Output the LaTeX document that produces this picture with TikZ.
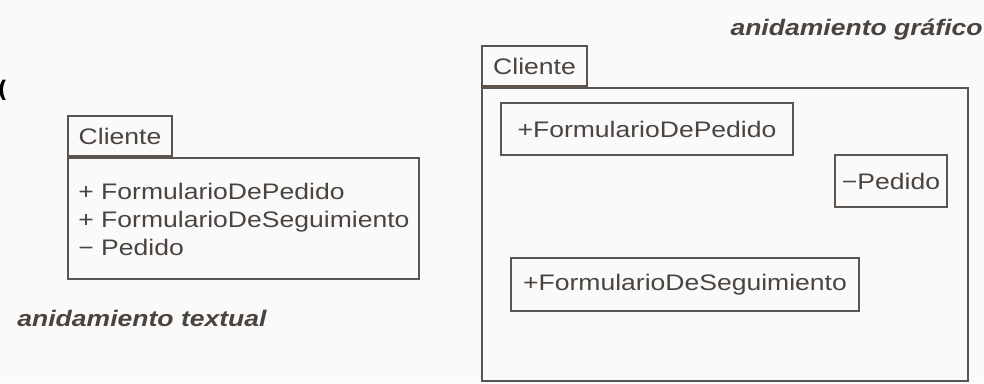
\documentclass[tikz,border=0pt]{standalone}
\usepackage{fontspec}
\newfontfamily\umlfont[FakeStretch=1.18]{Liberation Sans}
\newfontfamily\parenfont{DejaVu Sans}
\usetikzlibrary{positioning}
\definecolor{inkline}{HTML}{5C544E}
\definecolor{inktext}{HTML}{4A433E}
\definecolor{paper}{HTML}{FAFAFA}
\tikzstyle{pkgbody}=[draw=inkline, line width=1.1pt, inner sep=0pt]
\tikzstyle{pkgtab}=[draw=inkline, line width=1.1pt, inner sep=0pt, minimum height=0.8cm, text=inktext, font=\umlfont\fontsize{12.8}{15}\selectfont]
\tikzstyle{elembox}=[draw=inkline, line width=1.1pt, inner sep=0pt, minimum height=1.04cm, text=inktext, font=\umlfont\fontsize{12.8}{15}\selectfont]
\tikzstyle{elemline}=[inner sep=0pt, anchor=base west, text=inktext, font=\umlfont\fontsize{12.8}{15}\selectfont]
\tikzstyle{caption}=[inner sep=0pt, text=inktext, font=\umlfont\bfseries\itshape\fontsize{12.8}{15}\selectfont]

\begin{document}
\begin{tikzpicture}[x=0.02cm, y=-0.02cm]
    \fill[paper] (0,0) rectangle (984,383);
    \useasboundingbox (0,0) rectangle (984,383);

    % textual nesting
    \node[pkgbody, minimum width=7.02cm, minimum height=2.42cm] (bodyT) at (243.5,218.5) {};
    \node[pkgtab, minimum width=2.08cm, above right=0pt and 0pt of bodyT.north west] (tabT) {Cliente};
    \node[elemline] (lineA) at (78,199) {+ FormularioDePedido};
    \node[elemline] (lineB) at (78,227) {+ FormularioDeSeguimiento};
    \node[elemline] (lineC) at (78,255) {\textminus\ Pedido};
    \node[caption, anchor=base west] (capT) at (17,326) {anidamiento textual};
    \node[inner sep=0pt, anchor=base west, font=\parenfont\bfseries\fontsize{13}{15}\selectfont] (paren) at (-3,97) {(};

    % graphical nesting
    \node[pkgbody, minimum width=9.72cm, minimum height=5.86cm] (bodyG) at (725,234.5) {};
    \node[pkgtab, minimum width=2.10cm, above right=0pt and 0pt of bodyG.north west] (tabG) {Cliente};
    \node[elembox, minimum width=5.84cm] (formPed) at (647,129) {+FormularioDePedido};
    \node[elembox, minimum width=2.24cm] (ped) at (891,181) {\textminus Pedido};
    \node[elembox, minimum width=6.96cm, minimum height=1.06cm] (formSeg) at (685,284.5) {+FormularioDeSeguimiento};
    \node[caption, anchor=base east] (capG) at (983,35) {anidamiento gráfico};
\end{tikzpicture}
\end{document}
